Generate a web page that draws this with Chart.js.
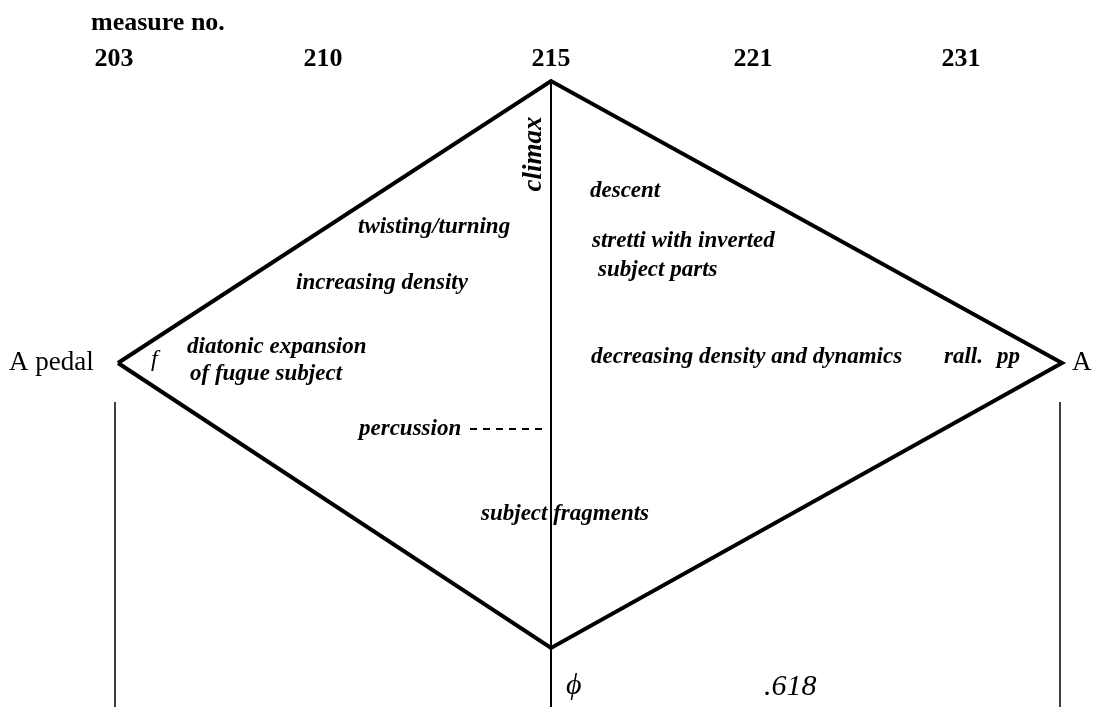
<!DOCTYPE html>
<html>
<head>
<meta charset="utf-8">
<script src="https://cdn.jsdelivr.net/npm/chart.js@4.4.0/dist/chart.umd.min.js"></script>
<style>
  html, body { margin: 0; padding: 0; background: #fff; }
  #wrap { width: 1098px; height: 707px; }
</style>
</head>
<body>
<div id="wrap"><canvas id="myChart"></canvas></div>
<script>
// measure numbers across the top and where they sit on the x scale
var measureNos = ['203', '210', '215', '221', '231'];
var measureX = [114, 323, 551, 753, 961];

// diamond: A pedal -> climax -> A -> phi -> A pedal
var diamondX = [118, 551, 1062, 551, 118];
var diamondY = [363, 81, 363, 648, 363];

// center line (climax down to phi) and the two side lines
var centerX = [551, 551];
var centerY = [81, 707];
var leftX = [115, 115];
var rightX = [1060, 1060];
var sideY = [402, 707];

// percussion dashes
var percX = [470, 546];
var percY = [429, 429];

// text notes inside the diagram
var notes = [
    { t: 'twisting/turning', x: 358, y: 227 },
    { t: 'increasing density', x: 296, y: 283 },
    { t: 'diatonic expansion', x: 187, y: 347 },
    { t: 'of fugue subject', x: 190, y: 374 },
    { t: 'descent', x: 590, y: 191 },
    { t: 'stretti with inverted', x: 592, y: 241 },
    { t: 'subject parts', x: 598, y: 270 },
    { t: 'decreasing density and dynamics', x: 591, y: 357 },
    { t: 'rall.', x: 944, y: 357 },
    { t: 'pp', x: 997, y: 357 },
    { t: 'percussion', x: 359, y: 429 },
    { t: 'subject fragments', x: 481, y: 514 }
];

function pts(xs, ys) {
    var out = [];
    for (var i = 0; i < xs.length; i++) out.push({ x: xs[i], y: ys[i] });
    return out;
}

function line(xs, ys, w, dash) {
    return {
        data: pts(xs, ys),
        showLine: true,
        borderColor: '#000',
        borderWidth: w,
        borderDash: dash || [],
        borderJoinStyle: 'miter',
        pointRadius: 0,
        fill: false,
        tension: 0
    };
}

const textPlugin = {
    id: 'texts',
    afterDraw: function (chart) {
        var c = chart.ctx;
        var sx = chart.scales.x, sy = chart.scales.y;
        c.save();
        c.fillStyle = '#000';
        c.textBaseline = 'middle';

        // header
        c.font = 'bold 26px "Liberation Serif"';
        c.textAlign = 'left';
        c.fillText('measure no.', sx.getPixelForValue(91), sy.getPixelForValue(23));
        c.textAlign = 'center';
        for (var i = 0; i < measureNos.length; i++) {
            c.fillText(measureNos[i], sx.getPixelForValue(measureX[i]), sy.getPixelForValue(59));
        }

        // end points
        c.font = '27px "Liberation Serif"';
        c.textAlign = 'left';
        c.fillText('A pedal', sx.getPixelForValue(9), sy.getPixelForValue(363));
        c.fillText('A', sx.getPixelForValue(1072), sy.getPixelForValue(363));

        c.font = 'italic 24px "Liberation Serif"';
        c.fillText('f', sx.getPixelForValue(151), sy.getPixelForValue(360));

        // notes
        c.font = 'bold italic 23px "Liberation Serif"';
        notes.forEach(function (n) {
            c.fillText(n.t, sx.getPixelForValue(n.x), sy.getPixelForValue(n.y));
        });

        // climax, rotated
        c.save();
        c.translate(sx.getPixelForValue(534), sy.getPixelForValue(154));
        c.rotate(-Math.PI / 2);
        c.textAlign = 'center';
        c.font = 'bold italic 27px "Liberation Serif"';
        c.fillText('climax', 0, 0);
        c.restore();

        // phi and ratio
        c.font = 'italic 30px "Liberation Serif"';
        c.fillText('\u03D5', sx.getPixelForValue(566), sy.getPixelForValue(686));
        c.fillText('.618', sx.getPixelForValue(764), sy.getPixelForValue(687));
        c.restore();
    }
};

const ctx = document.getElementById('myChart');
new Chart(ctx, {
    type: 'scatter',
    data: {
        datasets: [
            line(diamondX, diamondY, 4),
            line(centerX, centerY, 2),
            line(leftX, sideY, 1.5),
            line(rightX, sideY, 1.5),
            line(percX, percY, 1.8, [7, 6])
        ]
    },
    options: {
        responsive: true,
        maintainAspectRatio: false,
        animation: false,
        layout: { padding: 0 },
        scales: {
            x: { type: 'linear', min: 0, max: 1098, display: false },
            y: { type: 'linear', min: 0, max: 707, reverse: true, display: false }
        },
        plugins: {
            legend: { display: false },
            tooltip: { enabled: false }
        }
    },
    plugins: [textPlugin]
});
</script>
</body>
</html>
